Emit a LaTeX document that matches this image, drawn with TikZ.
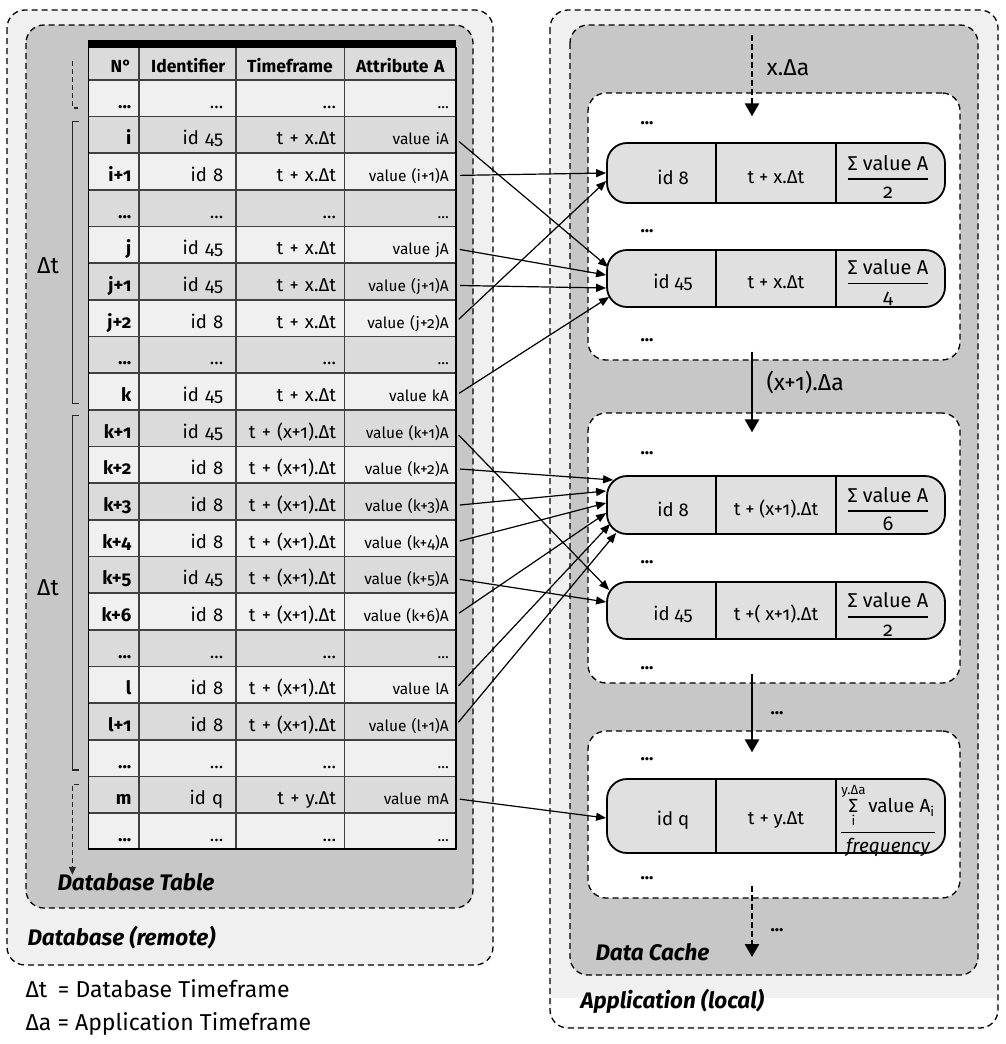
\documentclass[tikz,border=0pt]{standalone}
\usepackage{amsmath}
\usepackage{fontspec}
\setmainfont{Fira Sans}[Numbers=OldStyle]
\usetikzlibrary{matrix,arrows.meta}

\definecolor{boxlight}{gray}{0.94}
\definecolor{boxdark}{gray}{0.78}
\definecolor{rowlight}{gray}{0.94}
\definecolor{rowdark}{gray}{0.86}
\definecolor{headgray}{gray}{0.66}
\definecolor{slotgray}{gray}{0.88}

\newcommand{\fs}[1]{\fontsize{#1}{#1}\selectfont}
\newcommand{\sumfrac}[1]{$\genfrac{}{}{1.6pt}{0}{\text{Σ value A}}{\text{#1}}$}

\begin{document}
\begin{tikzpicture}[x=1pt, y=-1pt,
  container/.style={draw, dash pattern=on 6pt off 4pt, line width=1.3pt, rounded corners=18pt},
  cachebox/.style={container, fill=white, minimum width=372pt},
  slot/.style={draw, line width=1.8pt, fill=slotgray, rounded corners=20pt,
    minimum width=338pt, inner sep=0pt,
    path picture={\fill (path picture bounding box.north west) rectangle
      ([yshift=-10pt]path picture bounding box.north east);}},
  conn/.style={-{Triangle[length=10pt,width=8pt]}, line width=1.2pt, shorten <=4pt},
  flow/.style={-{Triangle[length=13pt,width=14pt]}, line width=2.6pt},
  brace/.style={line width=1.2pt, black!85},
  dots/.style={font=\fs{18}\bfseries},
  boxtitle/.style={font=\fs{22.5}\bfseries\itshape, anchor=base west},
  note/.style={font=\fs{23}, anchor=base west}]
  \useasboundingbox (0,0) rectangle (1005,1044);

  % database (remote)
  \draw[container, fill=boxlight] (7,10) rectangle (493,965);
  \draw[container, fill=boxdark] (26,25) rectangle (473,908);
  \node[boxtitle] (dbtab) at (54,890) {Database Table};
  \node[boxtitle] (dbrem) at (24,945) {Database (remote)};

  % application (local)
  \fill[boxlight, rounded corners=18pt] (550,10) rectangle (998,1028);
  \fill[white] (552,998) rectangle (996,1026);
  \draw[container] (550,10) rectangle (998,1028);
  \draw[container, fill=boxdark] (570,25) rectangle (978,975);
  \node[boxtitle] (cache) at (592,960) {Data Cache};
  \node[boxtitle] (app) at (577,1008) {Application (local)};

  % the table
  \matrix (m) at (88,47) [matrix of nodes, anchor=north west, inner sep=0pt, outer sep=0pt,
    row sep=0pt, column sep=0pt,
    nodes={draw=black!75, line width=0.8pt, outer sep=0pt, inner ysep=0pt,
      minimum height=35.86pt, text height=25pt, text depth=5pt, align=right, font=\fs{18.5}},
    every odd row/.style={nodes={fill=rowdark}},
    every even row/.style={nodes={fill=rowlight}},
    column 1/.style={nodes={text width=36pt, inner xsep=7pt, font=\fs{18.5}\bfseries}},
    column 2/.style={nodes={text width=72pt, inner xsep=12pt}},
    column 3/.style={nodes={text width=92pt, inner xsep=8pt}},
    column 4/.style={nodes={text width=97pt, inner xsep=7pt, font=\fs{15.5}}},
    row 1/.style={nodes={fill=headgray, font=\fs{17.5}\bfseries, align=center,
      minimum height=32pt, text height=18pt, text depth=0pt}},
    row 1 column 1/.style={nodes={align=right}}]
  {
    N° & Identifier & Timeframe & Attribute A \\
    ... & ... & ... & ... \\
    i & id 45 & t + x.Δt & value iA \\
    i+1 & id 8 & t + x.Δt & value (i+1)A \\
    ... & ... & ... & ... \\
    j & id 45 & t + x.Δt & value jA \\
    j+1 & id 45 & t + x.Δt & value (j+1)A \\
    j+2 & id 8 & t + x.Δt & value (j+2)A \\
    ... & ... & ... & ... \\
    k & id 45 & t + x.Δt & value kA \\
    k+1 & id 45 & t + (x+1).Δt & value (k+1)A \\
    k+2 & id 8 & t + (x+1).Δt & value (k+2)A \\
    k+3 & id 8 & t + (x+1).Δt & value (k+3)A \\
    k+4 & id 8 & t + (x+1).Δt & value (k+4)A \\
    k+5 & id 45 & t + (x+1).Δt & value (k+5)A \\
    k+6 & id 8 & t + (x+1).Δt & value (k+6)A \\
    ... & ... & ... & ... \\
    l & id 8 & t + (x+1).Δt & value lA \\
    l+1 & id 8 & t + (x+1).Δt & value (l+1)A \\
    ... & ... & ... & ... \\
    m & id q & t + y.Δt & value mA \\
    ... & ... & ... & ... \\
  };
  \fill (m-1-1.north west) rectangle ([yshift=7pt]m-1-4.north east);
  \draw[line width=1.6pt] (m-1-1.north west) rectangle (m-22-4.south east);

  % time windows
  \draw[brace, dash pattern=on 5pt off 3pt] ([xshift=-16pt,yshift=19pt]m-2-1.north west)
    |- ([xshift=-10pt,yshift=8pt]m-2-1.south west);
  \draw[brace] ([xshift=-9pt,yshift=-5pt]m-3-1.north west) -- ++(-7,0)
    |- ([xshift=-9pt,yshift=6pt]m-10-1.south west);
  \draw[brace] ([xshift=-9pt,yshift=-5pt]m-11-1.north west) -- ++(-7,0)
    |- ([xshift=-9pt,yshift=6pt]m-20-1.south west);
  \draw[brace, dash pattern=on 5pt off 3pt, -{Triangle[length=8pt,width=7pt]}]
    ([xshift=-9pt,yshift=-8pt]m-21-1.north west) -- ++(-7,0) -- ++(0,90);
  \node[font=\fs{23}] (dt1) at (48,266) {Δt};
  \node[font=\fs{23}] (dt2) at (48,588) {Δt};

  % data cache
  \node[cachebox, minimum height=267pt] (f1) at (774,226.5) {};
  \node[cachebox, minimum height=270pt] (f2) at (774,548) {};
  \node[cachebox, minimum height=167pt] (f3) at (774,814.5) {};
  \foreach \y in {123,231,340,453,562,668,759,878}
    \node[dots] at (647,\y) {...};

  \foreach \n/\y/\h/\id/\tf/\fr in {
      c1/173/60pt/{id 8}/{t + x.Δt}/{\sumfrac{2}},
      c2/278.5/57pt/{id 45}/{t + x.Δt}/{\sumfrac{4}},
      c3/505/58pt/{id 8}/{t + (x+1).Δt}/{\sumfrac{6}},
      c4/610.5/57pt/{id 45}/{t +( x+1).Δt}/{\sumfrac{2}},
      c5/816/74pt/{id q}/{t + y.Δt}/{\fs{19}$\genfrac{}{}{1.6pt}{0}{\mathop{\text{Σ}}\limits^{\text{y.Δa}}_{\text{i}}\text{value A}_{\text{i}}}{\text{\itshape frequency}}$}}
  {
    \node[slot, minimum height=\h] (\n) at (776,\y) {};
    \draw[line width=1.2pt] ([xshift=-60pt]\n.north) -- ([xshift=-60pt]\n.south)
      ([xshift=60pt]\n.north) -- ([xshift=60pt]\n.south);
    \node[font=\fs{18.5}] (\n-id) at ([xshift=-103pt,yshift=-4pt]\n.center) {\id};
    \node[font=\fs{18.5}] (\n-tf) at ([yshift=-4pt]\n.center) {\tf};
    \node[font=\fs{20}] (\n-fr) at ([xshift=112pt,yshift=-4pt]\n.center) {\fr};
  }

  % cache time steps
  \coordinate (fin) at (752,35);
  \coordinate (fout) at (752,957);
  \draw[flow, dash pattern=on 6pt off 3pt] (fin) -- ([xshift=-22pt,yshift=-24pt]f1.north);
  \draw[flow] ([xshift=-22pt,yshift=9pt]f1.south) -- ([xshift=-22pt,yshift=-20pt]f2.north);
  \draw[flow] ([xshift=-22pt,yshift=10pt]f2.south) -- ([xshift=-22pt,yshift=-22pt]f3.north);
  \draw[flow, dash pattern=on 6pt off 3pt] ([xshift=-22pt,yshift=13pt]f3.south) -- (fout);
  \node[note] (xa) at (763,75) {x.Δa};
  \node[note] (xa1) at (763,390) {(x+1).Δa};
  \node[dots] at (777,713) {...};
  \node[dots] at (777,930) {...};

  % rows into the cache
  \path[conn]
    ([yshift=-4pt]m-3-4.east) edge ([xshift=2pt,yshift=11.5pt]c2.west)
    ([yshift=-4pt]m-4-4.east) edge (c1.west)
    ([yshift=-4pt]m-6-4.east) edge ([yshift=3.5pt]c2.west)
    ([yshift=-4pt]m-7-4.east) edge ([yshift=-9.5pt]c2.west)
    ([yshift=-4pt]m-8-4.east) edge ([yshift=-8pt]c1.west)
    ([yshift=-4pt]m-10-4.east) edge ([xshift=3pt,yshift=-18.5pt]c2.west)
    ([yshift=-4pt]m-11-4.east) edge ([xshift=3pt,yshift=20.5pt]c4.west)
    ([yshift=-4pt]m-12-4.east) edge ([xshift=7pt,yshift=25pt]c3.west)
    ([yshift=-4pt]m-13-4.east) edge ([yshift=14pt]c3.west)
    ([yshift=-4pt]m-14-4.east) edge ([yshift=2pt]c3.west)
    ([yshift=-4pt]m-15-4.east) edge ([yshift=8.5pt]c4.west)
    ([yshift=-4pt]m-16-4.east) edge ([yshift=-8pt]c3.west)
    ([yshift=-4pt]m-18-4.east) edge ([xshift=4pt,yshift=-19pt]c3.west)
    ([yshift=-4pt]m-19-4.east) edge ([xshift=10pt,yshift=-28pt]c3.west)
    ([yshift=-4pt]m-21-4.east) edge ([yshift=-2pt]c5.west);

  % legend
  \node[note] (lg1) at (22,997) {Δt\hspace{0.2em} = Database Timeframe};
  \node[note] (lg2) at (22,1030) {Δa = Application Timeframe};
\end{tikzpicture}
\end{document}
